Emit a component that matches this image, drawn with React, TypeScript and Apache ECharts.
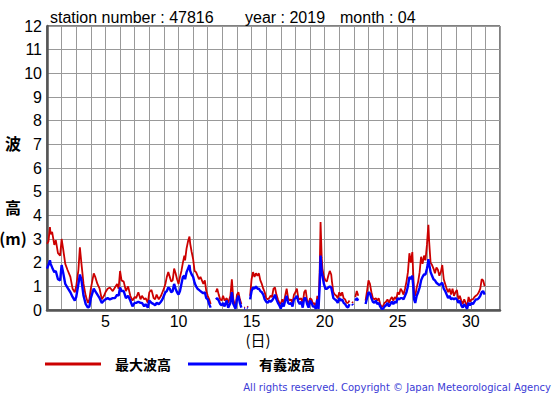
import React, { useEffect, useRef } from "react";
import * as echarts from "echarts";

// time in days (1.0 = 1st 00:00)
const times = [
  1.0, 1.1, 1.2, 1.25, 1.35, 1.5, 1.6, 1.75, 1.9, 2.0, 2.1, 2.25, 2.4, 2.6, 2.75, 2.9,
  3.0, 3.15, 3.25, 3.35, 3.5, 3.65, 3.8, 3.9, 4.0, 4.2, 4.3, 4.45, 4.6, 4.75, 4.9,
  5.0, 5.15, 5.3, 5.5, 5.65, 5.8, 5.9, 6.0, 6.1, 6.25, 6.4, 6.55, 6.7, 6.85,
  7.0, 7.1, 7.25, 7.4, 7.5, 7.65, 7.75, 7.9, 8.0, 8.15, 8.3, 8.4, 8.5, 8.65, 8.8, 8.9,
  9.0, 9.1, 9.2, 9.3, 9.4, 9.5, 9.6, 9.7, 9.8, 9.9, 10.0, 10.1, 10.2, 10.3, 10.4, 10.45,
  10.55, 10.65, 10.75, 10.8, 10.9, 11.0, 11.1, 11.2, 11.3, 11.4, 11.5, 11.6, 11.7, 11.8, 11.9,
  12.0, 12.1, 12.2, 12.35, 12.55, 12.65, 12.75, 12.85, 12.95, 13.05, 13.15, 13.3, 13.4, 13.55,
  13.65, 13.75, 13.9, 14.0, 14.1, 14.2, 14.3, 14.4, 14.5, 14.55, 14.6, 14.7, 14.75, 14.8, 14.9,
  15.0, 15.1, 15.2, 15.3, 15.4, 15.5, 15.6, 15.7, 15.8, 15.9, 16.0, 16.1, 16.2, 16.3, 16.4,
  16.5, 16.6, 16.7, 16.8, 16.9, 17.0, 17.1, 17.2, 17.3, 17.4, 17.5, 17.6, 17.7, 17.8, 17.9,
  18.0, 18.1, 18.2, 18.3, 18.4, 18.5, 18.6, 18.7, 18.8, 18.9, 19.0, 19.1, 19.2, 19.3, 19.4,
  19.5, 19.58, 19.66, 19.72, 19.8, 19.85, 19.95, 20.05, 20.15, 20.25, 20.35, 20.45, 20.5,
  20.6, 20.7, 20.8, 20.9, 21.0, 21.1, 21.2, 21.3, 21.4, 21.5, 21.6, 21.7, 21.8, 21.88, 21.94,
  22.0, 22.1, 22.2, 22.3, 22.4, 22.8, 22.9, 23.0, 23.1, 23.2, 23.3, 23.4, 23.5, 23.6, 23.7,
  23.8, 23.9, 24.0, 24.1, 24.2, 24.3, 24.4, 24.5, 24.6, 24.7, 24.8, 24.9, 25.0, 25.1, 25.2,
  25.3, 25.4, 25.5, 25.6, 25.7, 25.8, 25.9, 26.0, 26.05, 26.12, 26.2, 26.3, 26.4, 26.5, 26.6,
  26.7, 26.8, 26.9, 27.0, 27.05, 27.1, 27.15, 27.25, 27.35, 27.45, 27.55, 27.65, 27.75, 27.85,
  27.95, 28.05, 28.15, 28.25, 28.35, 28.45, 28.55, 28.65, 28.75, 28.85, 28.95, 29.05, 29.15,
  29.25, 29.35, 29.45, 29.55, 29.65, 29.75, 29.85, 29.95, 30.05, 30.15, 30.25, 30.35, 30.45,
  30.55, 30.65, 30.75, 30.85, 30.95,
];

// 最大波高 (m)
const maxWave = [
  2.8, 2.9, 3.5, 3.2, 3.3, 2.75, 2.95, 2.4, 2.3, 3.0, 2.6, 1.95, 1.7, 1.4, 0.9, 0.75,
  1.0, 1.7, 2.65, 2.0, 1.1, 0.6, 0.3, 0.45, 0.9, 1.55, 1.4, 1.1, 0.9, 0.45, 0.6,
  0.75, 0.9, 0.95, 0.8, 0.95, 1.1, 0.9, 1.65, 1.25, 1.2, 0.8, 1.0, 0.6, 0.4,
  0.55, 0.5, 0.75, 0.45, 0.6, 0.45, 0.5, 0.3, 0.75, 0.85, 0.5, 0.45, 0.65, 0.45, 0.6, 0.75,
  0.9, 1.1, 1.4, 1.6, 1.4, 1.2, 1.25, 1.75, 1.55, 1.3, 1.1, 1.4, 1.65, 2.0, 2.3, 2.1,
  2.6, 2.9, 3.1, 2.8, 2.45, 2.15, 1.65, 1.6, 1.45, 1.3, 1.4, 1.25, 1.1, 1.25, 0.8,
  0.6, 0.45, 0.25, null, 0.75, 0.9, 0.65, 0.45, 0.4, 0.6, 0.4, 0.5, 0.3, 0.6,
  1.3, 0.45, 0.1, 0.65, 0.75, 0.45, 0.25, null, 0.1, 0.12, null, 0.15, 0.12, null, 0.6,
  1.3, 1.6, 1.4, 1.55, 1.45, 1.55, 1.25, 1.1, 0.9, 0.75, 0.5, 0.45, 0.5, 0.6, 0.55,
  0.9, 0.95, 0.65, 0.45, 0.3, 0.25, 0.45, 0.3, 0.6, 0.9, 0.5, 0.4, 0.45, 0.3, 0.65,
  0.75, 0.9, 0.5, 0.45, 0.5, 0.25, 0.75, 0.85, 0.4, 0.25, 0.5, 0.45, 0.25, 0.3, 0.1,
  0.6, 0.2, 1.6, 3.72, 2.2, 1.75, 1.4, 1.25, 1.2, 1.45, 1.65, 1.5, 1.2,
  0.75, 0.65, 0.6, 0.5, 0.75, 0.6, 0.75, 0.5, 0.45, 0.3, 0.3, 0.4, null, 0.35, 0.3,
  null, 0.55, 0.8, 0.6, null, 0.4, 0.8, 1.25, 1.1, 0.75, 0.5, 0.45, 0.5, 0.4, 0.5,
  0.25, 0.13, 0.17, 0.3, 0.35, 0.45, 0.3, 0.45, 0.55, 0.4, 0.55, 0.45, 0.75, 0.65, 0.9,
  0.8, 0.65, 0.9, 1.2, 1.6, 2.4, 2.0, 2.45, 1.7, 0.75, 0.6, 0.95, 1.2, 1.6, 2.25,
  1.95, 2.3, 2.1, 2.75, 3.2, 3.6, 2.9, 2.0, 1.9, 1.75, 1.55, 1.8, 1.7, 1.45,
  1.6, 1.9, 1.3, 1.1, 0.9, 0.75, 0.9, 0.65, 0.9, 0.6, 0.75, 0.85, 0.45,
  0.6, 0.4, 0.25, 0.45, 0.3, 0.15, 0.55, 0.35, 0.45, 0.45, 0.55, 0.6, 0.65,
  0.75, 0.9, 1.3, 1.25, 1.0,
];

// 有義波高 (m)
const sigWave = [
  1.75, 1.9, 2.1, 1.95, 1.8, 1.6, 1.65, 1.3, 1.25, 1.9, 1.6, 1.1, 0.95, 0.75, 0.55, 0.4,
  0.55, 1.1, 1.5, 1.3, 0.6, 0.25, 0.1, 0.15, 0.5, 0.9, 0.8, 0.65, 0.5, 0.3, 0.4,
  0.45, 0.5, 0.45, 0.5, 0.5, 0.65, 0.6, 0.95, 0.8, 0.8, 0.5, 0.6, 0.4, 0.15,
  0.3, 0.3, 0.35, 0.3, 0.3, 0.15, 0.25, 0.1, 0.4, 0.3, 0.25, 0.2, 0.3, 0.25, 0.35, 0.45,
  0.6, 0.75, 0.8, 0.95, 0.9, 0.75, 0.8, 1.1, 0.9, 0.75, 0.65, 0.8, 1.1, 1.4, 1.45, 1.3,
  1.6, 1.75, 1.9, 1.65, 1.5, 1.4, 1.15, 1.0, 0.9, 0.85, 0.8, 0.75, 0.7, 0.75, 0.5,
  0.45, 0.25, 0.1, null, 0.45, 0.5, 0.4, 0.25, 0.2, 0.3, 0.15, 0.4, 0.1, 0.3,
  0.75, 0.25, 0.05, 0.45, 0.6, 0.3, 0.1, null, 0.05, 0.06, null, 0.1, 0.08, null, 0.45,
  0.8, 0.95, 0.9, 1.0, 0.9, 0.9, 0.8, 0.75, 0.65, 0.45, 0.35, 0.3, 0.4, 0.35, 0.4,
  0.5, 0.65, 0.45, 0.3, 0.2, 0.05, 0.3, 0.15, 0.4, 0.6, 0.3, 0.25, 0.3, 0.15, 0.45,
  0.5, 0.6, 0.35, 0.25, 0.35, 0.1, 0.5, 0.5, 0.25, 0.1, 0.4, 0.3, 0.15, 0.15, 0.05,
  0.45, 0.05, 1.0, 2.3, 1.6, 1.45, 1.1, 0.9, 0.9, 0.95, 1.0, 0.95, 0.8,
  0.5, 0.45, 0.4, 0.3, 0.5, 0.4, 0.45, 0.3, 0.25, 0.15, 0.1, 0.25, null, 0.25, 0.2,
  null, 0.4, 0.5, 0.4, null, 0.25, 0.5, 0.75, 0.7, 0.5, 0.35, 0.3, 0.4, 0.25, 0.3,
  0.15, 0.05, 0.05, 0.15, 0.2, 0.3, 0.15, 0.25, 0.35, 0.25, 0.35, 0.3, 0.5, 0.45, 0.5,
  0.5, 0.45, 0.6, 0.75, 1.0, 1.4, 1.3, 1.45, 1.1, 0.45, 0.3, 0.6, 0.75, 0.95, 1.25,
  1.4, 1.5, 1.5, 1.75, 1.9, 2.15, 1.95, 1.6, 1.45, 1.3, 1.25, 1.15, 1.1, 1.05,
  1.1, 1.15, 0.9, 0.8, 0.65, 0.5, 0.6, 0.45, 0.5, 0.45, 0.5, 0.45, 0.3,
  0.4, 0.2, 0.1, 0.25, 0.15, 0.05, 0.3, 0.2, 0.3, 0.25, 0.35, 0.45, 0.45,
  0.5, 0.6, 0.75, 0.8, 0.65,
];

const xLabelDays = [5, 10, 15, 20, 25, 30];
const titleParts = ["station number : 47816", "year : 2019", "month : 04"];
const seriesNames = ["最大波高", "有義波高"];
const copyright = "All rights reserved. Copyright © Japan Meteorological Agency";

const RED = "#cc0000";
const BLUE = "#0000ff";

function toPairs(vals: (number | null)[]) {
  return times.map((t, i) => [t, vals[i] == null ? "-" : vals[i]]);
}

export default function App() {
  const ref = useRef<HTMLDivElement>(null);
  useEffect(() => {
    if (!ref.current) return;
    const chart = echarts.init(ref.current, undefined, { renderer: "svg" });
    const font = "'Liberation Sans', Arial, sans-serif";
    const cjk = "'Noto Sans CJK JP', sans-serif";
    chart.setOption({
      animation: false,
      backgroundColor: "#ffffff",
      grid: {
        left: 47,
        top: 26,
        width: 453,
        height: 284,
        show: true,
        borderColor: "#000",
        borderWidth: 1,
        backgroundColor: "transparent",
      },
      xAxis: {
        type: "value",
        min: 1,
        max: 32,
        interval: 1,
        axisLine: { show: true, lineStyle: { color: "#555", width: 2.5 } },
        axisTick: { show: false },
        splitLine: { show: true, lineStyle: { color: "#999", width: 1 } },
        axisLabel: {
          color: "#000",
          fontSize: 16,
          fontFamily: font,
          margin: 3,
          formatter: (v: number) => (xLabelDays.includes(v) ? String(v) : ""),
        },
      },
      yAxis: {
        type: "value",
        min: 0,
        max: 12,
        interval: 1,
        axisLine: { show: true, lineStyle: { color: "#555", width: 2.5 } },
        axisTick: { show: false },
        splitLine: { show: true, lineStyle: { color: "#999", width: 1 } },
        axisLabel: { color: "#000", fontSize: 16, fontFamily: font, margin: 5 },
      },
      series: [
        {
          name: seriesNames[0],
          type: "line",
          data: toPairs(maxWave),
          showSymbol: false,
          connectNulls: false,
          lineStyle: { color: RED, width: 1.8 },
          itemStyle: { color: RED },
          z: 2,
        },
        {
          name: seriesNames[1],
          type: "line",
          data: toPairs(sigWave),
          showSymbol: false,
          connectNulls: false,
          lineStyle: { color: BLUE, width: 2.4 },
          itemStyle: { color: BLUE },
          z: 3,
        },
      ],
      graphic: [
        { type: "text", left: 50, top: 9, style: { text: titleParts[0], fill: "#000", font: `16px ${font}` } },
        { type: "text", left: 245, top: 9, style: { text: titleParts[1], fill: "#000", font: `16px ${font}` } },
        { type: "text", left: 340, top: 9, style: { text: titleParts[2], fill: "#000", font: `16px ${font}` } },
        { type: "text", x: 13, y: 143, style: { text: "波", fill: "#000", font: `bold 16px ${cjk}`, align: "center", verticalAlign: "middle" } },
        { type: "text", x: 13, y: 207, style: { text: "高", fill: "#000", font: `bold 16px ${cjk}`, align: "center", verticalAlign: "middle" } },
        { type: "text", x: 13, y: 238, style: { text: "(m)", fill: "#000", font: `bold 16px ${cjk}`, align: "center", verticalAlign: "middle" } },
        { type: "text", x: 258, y: 339, style: { text: "(日)", fill: "#000", font: `15px ${cjk}`, align: "center", verticalAlign: "middle" } },
        { type: "line", shape: { x1: 45, y1: 364, x2: 101, y2: 364 }, style: { stroke: RED, lineWidth: 3 } },
        { type: "text", x: 115, y: 364, style: { text: seriesNames[0], fill: "#000", font: `bold 14px ${cjk}`, verticalAlign: "middle" } },
        { type: "line", shape: { x1: 188, y1: 364, x2: 247, y2: 364 }, style: { stroke: BLUE, lineWidth: 3 } },
        { type: "text", x: 259, y: 364, style: { text: seriesNames[1], fill: "#000", font: `bold 14px ${cjk}`, verticalAlign: "middle" } },
        { type: "text", x: 551, y: 387, style: { text: copyright, fill: "#3b3bd6", font: `10px 'DejaVu Sans', sans-serif`, align: "right", verticalAlign: "middle" } },
      ],
    });
    return () => chart.dispose();
  }, []);
  return (
    <div
      ref={ref}
      style={{ position: "fixed", left: 0, top: 0, width: 555, height: 395, background: "#fff" }}
    />
  );
}
